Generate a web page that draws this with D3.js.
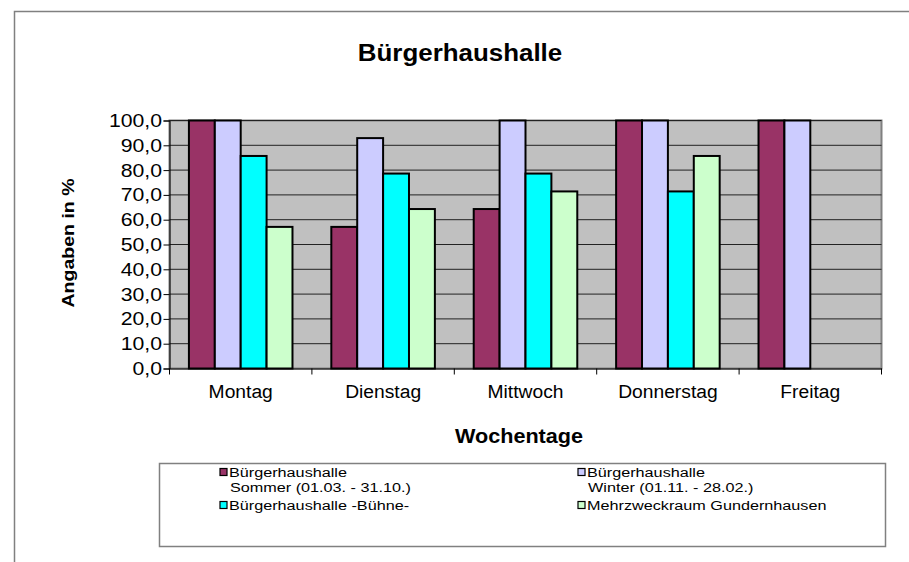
<!DOCTYPE html>
<html>
<head>
<meta charset="utf-8">
<script src="https://cdn.jsdelivr.net/npm/d3@7"></script>
<style>
  body { margin: 0; background: #fff; }
  text { font-family: Arial, "Liberation Sans", sans-serif; fill: #000; }
</style>
</head>
<body>
<div id="chart"></div>
<script>
const categories = ["Montag", "Dienstag", "Mittwoch", "Donnerstag", "Freitag"];
const sommer = [100, 57.1, 64.3, 100, 100];
const winter = [100, 92.9, 100, 100, 100];
const buehne = [85.7, 78.6, 78.6, 71.4, null];
const mehrzweck = [57.1, 64.3, 71.4, 85.7, null];
const seriesLabels = [
    ["Bürgerhaushalle", "Sommer (01.03. - 31.10.)"],
    ["Bürgerhaushalle", "Winter (01.11. - 28.02.)"],
    ["Bürgerhaushalle -Bühne-"],
    ["Mehrzweckraum Gundernhausen"]
];
const seriesColors = ["#993366", "#CCCCFF", "#00FFFF", "#CCFFCC"];
const yTicks = [0, 10, 20, 30, 40, 50, 60, 70, 80, 90, 100];

function init() {
    let w = 909;
    let h = 562;
    const series = [sommer, winter, buehne, mehrzweck];

    let svg = d3.select("#chart")
        .append("svg")
        .attr("width", w)
        .attr("height", h);

    // helper for text: the original fonts are rendered a bit wider than Arial
    function label(x, y, str, size, sx, opts) {
        opts = opts || {};
        let rot = opts.rotate ? " rotate(" + opts.rotate + ")" : "";
        return svg.append("text")
            .attr("transform", "translate(" + x + "," + y + ")" + rot + " scale(" + sx + ",1)")
            .attr("text-anchor", opts.anchor || "start")
            .attr("font-size", size)
            .attr("font-weight", opts.bold ? "bold" : "normal")
            .text(str);
    }

    // outer chart frame (cut off at right / bottom)
    svg.append("path")
        .attr("d", "M14.5," + h + "V11.5H" + w)
        .attr("fill", "none")
        .attr("stroke", "#808080")
        .attr("stroke-width", 1.5);

    let x = d3.scaleBand()
        .domain(categories)
        .range([169.5, 881.5]);

    let x1 = d3.scaleBand()
        .domain(d3.range(series.length))
        .range([0, x.bandwidth()])
        .paddingInner(0)
        .paddingOuter(0.75);

    let y = d3.scaleLinear()
        .domain([0, 100])
        .range([368.5, 120.5]);

    // plot area
    svg.append("rect")
        .attr("x", x.range()[0])
        .attr("y", y(100))
        .attr("width", x.range()[1] - x.range()[0])
        .attr("height", y(0) - y(100))
        .attr("fill", "#C0C0C0")
        .attr("stroke", "#808080")
        .attr("stroke-width", 2);

    // gridlines
    svg.append("g")
        .selectAll("line")
        .data(yTicks.filter(d => d > 0))
        .enter()
        .append("line")
        .attr("x1", x.range()[0])
        .attr("x2", x.range()[1])
        .attr("y1", d => y(d))
        .attr("y2", d => y(d))
        .attr("stroke", "#222")
        .attr("stroke-width", 1);

    // bars
    categories.forEach(function (cat, i) {
        series.forEach(function (s, j) {
            if (s[i] == null) return;
            svg.append("rect")
                .attr("x", x(cat) + x1(j))
                .attr("y", y(s[i]))
                .attr("width", x1.bandwidth())
                .attr("height", y(0) - y(s[i]))
                .attr("fill", seriesColors[j])
                .attr("stroke", "#000")
                .attr("stroke-width", 2);
        });
    });

    // y axis
    let yAxis = d3.axisLeft(y)
        .tickValues(yTicks)
        .tickSize(6)
        .tickFormat(d => d.toFixed(1).replace(".", ","));
    let gy = svg.append("g")
        .attr("transform", "translate(" + x.range()[0] + ",0)")
        .call(yAxis);
    gy.select(".domain").attr("stroke", "#000").attr("stroke-width", 1);
    gy.selectAll(".tick line").attr("stroke", "#000");
    gy.selectAll(".tick text").remove();
    yTicks.forEach(function (t) {
        label(162, y(t) + 6.5, t.toFixed(1).replace(".", ","), 18, 1.18, { anchor: "end" });
    });

    // x axis
    let xAxis = d3.axisBottom(x).tickSize(0).tickFormat("");
    let gx = svg.append("g")
        .attr("transform", "translate(0," + y(0) + ")")
        .call(xAxis);
    gx.select(".domain").attr("stroke", "#000").attr("stroke-width", 1);
    gx.selectAll(".tick").remove();
    let bounds = categories.map(c => x(c)).concat([x.range()[1]]);
    gx.selectAll("line.sep")
        .data(bounds)
        .enter()
        .append("line")
        .attr("class", "sep")
        .attr("x1", d => d)
        .attr("x2", d => d)
        .attr("y1", 0)
        .attr("y2", 6)
        .attr("stroke", "#000");
    categories.forEach(function (c) {
        label(x(c) + x.bandwidth() / 2, 398, c, 18, 1.07, { anchor: "middle" });
    });

    // titles
    label(460, 61, "Bürgerhaushalle", 24, 1.08, { anchor: "middle", bold: true });
    label(519, 443, "Wochentage", 21, 1.03, { anchor: "middle", bold: true });
    label(74, 243, "Angaben in %", 17, 1.15, { anchor: "middle", bold: true, rotate: -90 });

    // legend
    svg.append("rect")
        .attr("x", 159.5)
        .attr("y", 463.5)
        .attr("width", 726)
        .attr("height", 83)
        .attr("fill", "#fff")
        .attr("stroke", "#808080")
        .attr("stroke-width", 1.5);

    let legendPos = [[220, 472], [578, 472], [220, 505], [578, 505]];
    seriesLabels.forEach(function (lines, j) {
        let p = legendPos[j];
        svg.append("rect")
            .attr("x", p[0])
            .attr("y", p[1] - 3.5)
            .attr("width", 7)
            .attr("height", 7)
            .attr("fill", seriesColors[j])
            .attr("stroke", "#000")
            .attr("stroke-width", 1.2);
        lines.forEach(function (ln, k) {
            label(p[0] + (k == 0 ? 9 : 10), p[1] + 5 + k * 15, ln, 13.5, 1.2);
        });
    });
}

window.addEventListener("load", init);
</script>
</body>
</html>
